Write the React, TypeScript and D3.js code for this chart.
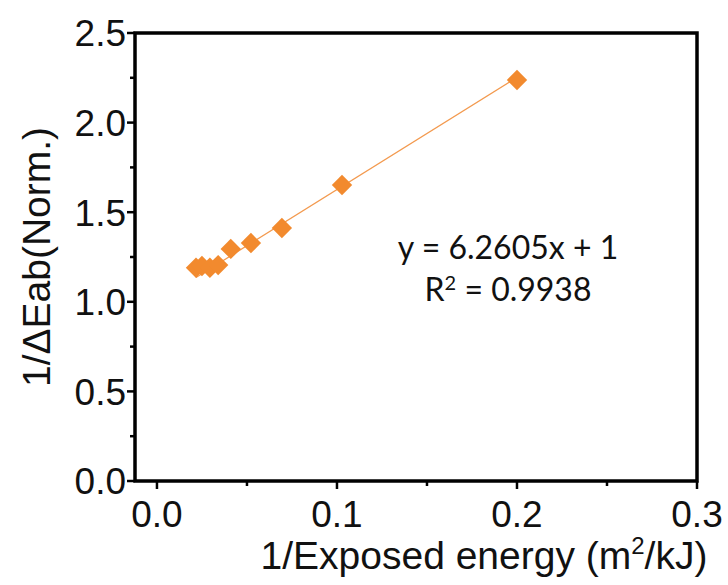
import React from "react";
import * as d3 from "d3";

const xValues = [0.0217, 0.025, 0.0294, 0.034, 0.041, 0.0522, 0.0694, 0.1028, 0.2];
const yValues = [1.19, 1.2, 1.19, 1.205, 1.295, 1.328, 1.412, 1.652, 2.238];
const xTicks = [0.0, 0.1, 0.2, 0.3];
const xMinorTicks = [0.05, 0.15, 0.25];
const yTicks = [0.0, 0.5, 1.0, 1.5, 2.0, 2.5];
const yMinorTicks = [0.25, 0.75, 1.25, 1.75, 2.25];
const fitSlope = 6.2605;
const fitIntercept = 1;
const equationText = "y = 6.2605x + 1";
const r2Value = "0.9938";

const W = 728;
const H = 585;
const left = 135, right = 697, top = 33, bottom = 481;

export default function App() {
  const x = d3.scaleLinear().domain([-0.0122, 0.3]).range([left, right]);
  const y = d3.scaleLinear().domain([0, 2.5]).range([bottom, top]);
  const fmt = d3.format(".1f");
  const xMin = d3.min(xValues)!;
  const xMax = d3.max(xValues)!;
  const fitLine = d3.line<number>().x((d) => x(d)).y((d) => y(fitSlope * d + fitIntercept));
  const diamond = d3.symbol().type(d3.symbolDiamond2).size(2 * 11.5 * 11.5)();
  const axisFont = "'Liberation Sans', Arial, sans-serif";
  return (
    <svg width={W} height={H} style={{ position: "absolute", left: 0, top: 0, background: "#fff" }}>
      <rect x={0} y={0} width={W} height={H} fill="#fff" />
      {/* fit line */}
      <path d={fitLine([xMin, xMax]) || ""} stroke="#F39A4F" strokeWidth={1.3} fill="none" />
      {/* points */}
      {xValues.map((xv, i) => (
        <path key={i} d={diamond || ""} transform={`translate(${x(xv)},${y(yValues[i])})`} fill="#F28A2E" />
      ))}
      {/* frame */}
      <rect x={left} y={top} width={right - left} height={bottom - top} fill="none" stroke="#000" strokeWidth={3.5} />
      {/* y ticks */}
      {yTicks.map((t) => (
        <g key={"y" + t}>
          <line x1={left} x2={left - 8} y1={y(t)} y2={y(t)} stroke="#000" strokeWidth={2.5} />
          <text x={left - 9} y={y(t)} dy="0.36em" textAnchor="end" fontSize={37} fontFamily={axisFont} fill="#111">
            {fmt(t)}
          </text>
        </g>
      ))}
      {yMinorTicks.map((t) => (
        <line key={"ym" + t} x1={left} x2={left - 5} y1={y(t)} y2={y(t)} stroke="#000" strokeWidth={2.5} />
      ))}
      {/* x ticks */}
      {xTicks.map((t) => (
        <g key={"x" + t}>
          <line x1={x(t)} x2={x(t)} y1={bottom} y2={bottom + 8} stroke="#000" strokeWidth={2.5} />
          <text x={x(t)} y={527} textAnchor="middle" fontSize={37} fontFamily={axisFont} fill="#111">
            {fmt(t)}
          </text>
        </g>
      ))}
      {xMinorTicks.map((t) => (
        <line key={"xm" + t} x1={x(t)} x2={x(t)} y1={bottom} y2={bottom + 5} stroke="#000" strokeWidth={2.5} />
      ))}
      {/* axis titles */}
      <text x={484} y={569} textAnchor="middle" fontSize={39} fontFamily={axisFont} fill="#111">
        1/Exposed energy (m<tspan dy={-15} fontSize={24}>2</tspan><tspan dy={15}>/kJ)</tspan>
      </text>
      <text transform={`translate(50,257) rotate(-90)`} textAnchor="middle" fontSize={39} fontFamily={axisFont} fill="#111">
        1/ΔEab(Norm.)
      </text>
      {/* equation */}
      <text x={508} y={259} textAnchor="middle" fontSize={32} fontFamily="Lato, 'Open Sans', sans-serif" fill="#111">
        {equationText}
      </text>
      <text x={508} y={301} textAnchor="middle" fontSize={32} fontFamily="Lato, 'Open Sans', sans-serif" fill="#111">
        R<tspan dy={-11} fontSize={20}>2</tspan><tspan dy={11}>{" = " + r2Value}</tspan>
      </text>
    </svg>
  );
}
